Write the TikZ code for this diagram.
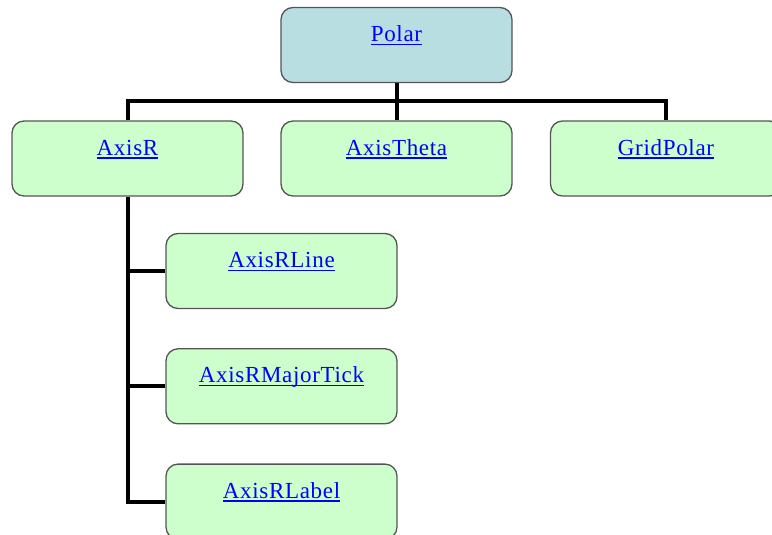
\documentclass[tikz,border=0pt]{standalone}
\usepackage{fontspec}
\setmainfont{Liberation Serif}
\usetikzlibrary{positioning}
\definecolor{linkblue}{RGB}{0,0,255}
\definecolor{rootfill}{RGB}{185,222,226}
\definecolor{leaffill}{RGB}{204,255,204}
\definecolor{boxline}{RGB}{85,85,85}
\newsavebox{\lnkbox}
\newcommand{\lnk}[1]{{\color{linkblue}\sbox{\lnkbox}{#1}%
  \rlap{\rule[-3.5pt]{\wd\lnkbox}{1.4pt}}\usebox{\lnkbox}}}
\tikzset{
  classbox/.style={draw=boxline, line width=1.3pt, rounded corners=12pt,
    minimum width=231pt, inner sep=0pt, text height=34pt, text depth=41pt,
    font=\fontsize{23}{27}\selectfont\addfontfeature{LetterSpace=3}, fill=leaffill},
  rootbox/.style={classbox, fill=rootfill},
  conn/.style={line width=4pt}
}
\begin{document}
\begin{tikzpicture}[x=1pt,y=-1pt]
                \clip (0,0) rectangle (772,535);
                % Raiz
                \node[rootbox] (polar) at (396.5,45) {\lnk{Polar}};
                % Primer nivel
                \node[classbox] (axisr) at (127.5,158.5) {\lnk{AxisR}};
                \node[classbox] (axistheta) at (396.5,158.5) {\lnk{AxisTheta}};
                \node[classbox] (gridpolar) at (666,158.5) {\lnk{GridPolar}};
                % Hijos de AxisR
                \node[classbox] (axisrline) at (281.5,271) {\lnk{AxisRLine}};
                \node[classbox, below=39pt of axisrline] (axisrmajortick) {\lnk{AxisRMajorTick}};
                \node[classbox, below=39pt of axisrmajortick] (axisrlabel) {\lnk{AxisRLabel}};
                % Conectores
                \coordinate (bar) at (396.5,101);
                \draw[conn] (polar.south) -- (bar);
                \draw[conn] (axisr.north) |- (bar) -| (gridpolar.north);
                \draw[conn] (bar) -- (axistheta.north);
                \draw[conn] (axisr.south) |- (axisrlabel.west);
                \draw[conn] (axisr.south |- axisrline.west) -- (axisrline.west);
                \draw[conn] (axisr.south |- axisrmajortick.west) -- (axisrmajortick.west);
                \end{tikzpicture}
\end{document}
